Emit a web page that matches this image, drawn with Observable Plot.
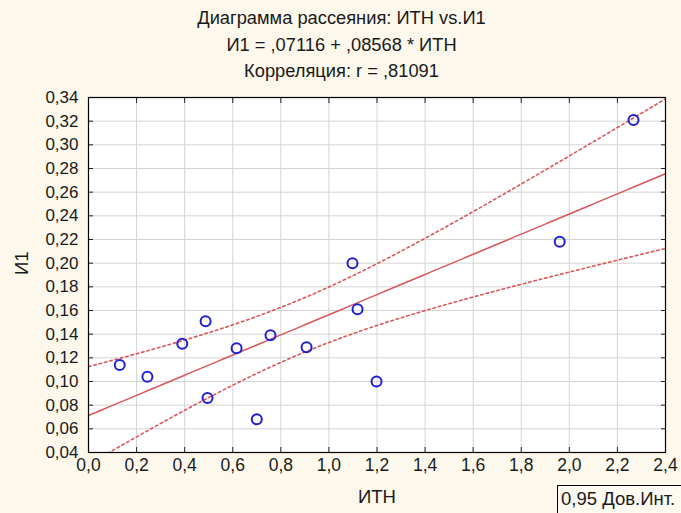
<!DOCTYPE html>
<html>
<head>
<meta charset="utf-8">
<script src="https://cdn.jsdelivr.net/npm/d3@7"></script>
<script src="https://cdn.jsdelivr.net/npm/@observablehq/plot@0.6"></script>
<style>
  html, body { margin: 0; padding: 0; background: #fcf8ec; }
  #wrap { position: relative; width: 681px; height: 513px; overflow: hidden; font-family: "Liberation Sans", Arial, sans-serif; color: #1a1a1a; }
  #title { position: absolute; left: 1px; top: 5px; width: 681px; text-align: center; font-size: 18.3px; line-height: 26.5px; }
  #legend { position: absolute; left: 557px; top: 485px; width: 130px; height: 34px; border: 1px solid #000; background: #fdfaf2; font-size: 18.5px; line-height: 20px; padding: 3px 0 0 3px; box-sizing: border-box; white-space: nowrap; }
  svg { overflow: visible; }
</style>
</head>
<body>
<div id="wrap">
  <div id="chart"></div>
  <div id="title">
    <div>Диаграмма рассеяния: ИТН vs.И1</div>
    <div>И1 = ,07116 + ,08568 * ИТН</div>
    <div>Корреляция: r = ,81091</div>
  </div>
  <div id="legend">0,95 Дов.Инт.</div>
</div>
<script>
// Data
const itn = [0.13, 0.245, 0.39, 0.487, 0.495, 0.616, 0.70, 0.757, 0.907, 1.098, 1.119, 1.198, 1.96, 2.267];
const i1  = [0.114, 0.104, 0.132, 0.151, 0.086, 0.128, 0.068, 0.139, 0.129, 0.200, 0.161, 0.100, 0.218, 0.321];
const xTicks = [0, 0.2, 0.4, 0.6, 0.8, 1.0, 1.2, 1.4, 1.6, 1.8, 2.0, 2.2, 2.4];
const yTicks = [0.04, 0.06, 0.08, 0.10, 0.12, 0.14, 0.16, 0.18, 0.20, 0.22, 0.24, 0.26, 0.28, 0.30, 0.32, 0.34];
const xLabel = "ИТН";
const yLabel = "И1";

const points = itn.map((x, i) => ({x, y: i1[i]}));

// Least squares fit and 95% confidence band of the mean, from the data
const n = points.length;
const mx = d3.mean(itn), my = d3.mean(i1);
const sxx = d3.sum(itn, x => (x - mx) ** 2);
const sxy = d3.sum(points, p => (p.x - mx) * (p.y - my));
const b = sxy / sxx, a = my - b * mx;
const sse = d3.sum(points, p => (p.y - (a + b * p.x)) ** 2);
const s = Math.sqrt(sse / (n - 2));
const t = 2.1788; // t(0.975, 12)
const xs = d3.range(0, 2.4 + 1e-9, 0.02);
const fit = xs.map(x => {
  const yhat = a + b * x;
  const hw = t * s * Math.sqrt(1 / n + (x - mx) ** 2 / sxx);
  return {x, y: yhat, lo: yhat - hw, hi: yhat + hw};
});

const fmtX = d => d.toFixed(1).replace(".", ",");
const fmtY = d => d.toFixed(2).replace(".", ",");
const red = "#d9575a";

const chart = Plot.plot({
  width: 681,
  height: 513,
  marginLeft: 88,
  marginRight: 16,
  marginTop: 97,
  marginBottom: 61,
  style: {background: "transparent", fontFamily: "Liberation Sans, Arial, sans-serif", fontSize: "17px", color: "#1a1a1a", overflow: "visible"},
  x: {domain: [0, 2.4]},
  y: {domain: [0.04, 0.34]},
  marks: [
    Plot.frame({fill: "white", stroke: null}),
    Plot.gridX(xTicks, {stroke: "#d4d4d4", strokeOpacity: 1}),
    Plot.gridY(yTicks, {stroke: "#d4d4d4", strokeOpacity: 1}),
    Plot.line(fit, {x: "x", y: "hi", stroke: red, strokeWidth: 1.6, strokeDasharray: "2.5,3", clip: true}),
    Plot.line(fit, {x: "x", y: "lo", stroke: red, strokeWidth: 1.6, strokeDasharray: "2.5,3", clip: true}),
    Plot.line(fit, {x: "x", y: "y", stroke: red, strokeWidth: 1.5, clip: true}),
    Plot.dot(points, {x: "x", y: "y", r: 5, stroke: "#1f1fd8", strokeWidth: 2, fill: "none"}),
    Plot.axisX(xTicks, {anchor: "bottom", tickSize: 0, tickPadding: 6, tickFormat: fmtX, fontSize: 17.5, label: null}),
    Plot.axisY(yTicks, {anchor: "left", tickSize: 0, tickPadding: 10, tickFormat: fmtY, fontSize: 17, label: null}),
    Plot.text([xLabel], {frameAnchor: "bottom", dy: 45, fontSize: 18.5, lineAnchor: "middle", text: d => d, fill: "#1a1a1a"}),
    Plot.text([yLabel], {frameAnchor: "left", dx: -66, rotate: -90, fontSize: 18.5, text: d => d, fill: "#1a1a1a"}),
    Plot.axisX(xTicks, {anchor: "bottom", tickSize: 5, dy: -5, fill: "none", stroke: "#222", label: null}),
    Plot.axisX(xTicks, {anchor: "top", tickSize: 5, dy: 5, fill: "none", stroke: "#222", label: null}),
    Plot.axisY(yTicks, {anchor: "left", tickSize: 5, dx: 5, fill: "none", stroke: "#222", label: null}),
    Plot.axisY(yTicks, {anchor: "right", tickSize: 5, dx: -5, fill: "none", stroke: "#222", label: null}),
    Plot.frame({stroke: "#000", strokeWidth: 1.2})
  ]
});
document.getElementById("chart").appendChild(chart);
</script>
</body>
</html>
